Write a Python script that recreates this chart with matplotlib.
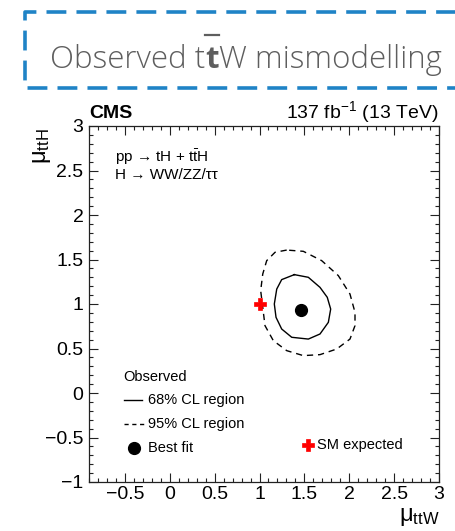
import matplotlib
matplotlib.use("Agg")
import matplotlib.pyplot as plt
from matplotlib.lines import Line2D
from matplotlib.ticker import MultipleLocator

plt.rcParams['font.family'] = ['Liberation Sans', 'DejaVu Sans']
plt.rcParams['mathtext.fontset'] = 'custom'
plt.rcParams['mathtext.rm'] = 'Liberation Sans'
plt.rcParams['mathtext.it'] = 'Liberation Sans:italic'
plt.rcParams['mathtext.bf'] = 'Liberation Sans:bold'
plt.rcParams['mathtext.default'] = 'regular'

# observed 68% CL contour in the (mu_ttW, mu_ttH) plane
cl68_x = [1.388, 1.247, 1.192, 1.165, 1.184, 1.247, 1.359, 1.544, 1.674,
          1.767, 1.793, 1.755, 1.674, 1.544]
cl68_y = [1.330, 1.274, 1.168, 1.000, 0.850, 0.719, 0.626, 0.606, 0.663,
          0.794, 0.943, 1.075, 1.187, 1.300]

# observed 95% CL contour
cl95_x = [1.303, 1.173, 1.080, 1.036, 1.013, 1.036, 1.061, 1.154, 1.303,
          1.488, 1.674, 1.860, 2.008, 2.064, 2.064, 2.008, 1.878, 1.693, 1.488]
cl95_y = [1.606, 1.581, 1.487, 1.337, 1.150, 0.963, 0.757, 0.588, 0.476,
          0.420, 0.431, 0.494, 0.606, 0.757, 0.906, 1.112, 1.319, 1.487, 1.592]

best_fit = (1.46, 0.93)
sm_expected = (1.0, 1.0)

W, H = 456, 531
fig = plt.figure(figsize=(W / 100, H / 100), dpi=100)


def fx(px):
    return px / W


def fy(py):
    return 1 - py / H


# dashed frame around the heading
box_blue = '#1f83c6'
fig.add_artist(Line2D([fx(470), fx(25), fx(25), fx(470)],
                      [fy(12), fy(12), fy(88), fy(88)],
                      color=box_blue, lw=2.6, dashes=(5.5, 2.8),
                      solid_capstyle='butt', dash_capstyle='butt'))

title_kw = dict(fontsize=22.5, color='#5e5e5e', family=['Open Sans', 'DejaVu Sans'],
                va='baseline', ha='left')
t1 = fig.text(fx(50), fy(68), 'Observed t', fontweight='light', **title_kw)
fig.canvas.draw()
r = fig.canvas.get_renderer()
b1 = t1.get_window_extent(r)
t2 = fig.text(b1.x1 / W, fy(68), 't', fontweight='bold', **title_kw)
fig.canvas.draw()
b2 = t2.get_window_extent(r)
fig.add_artist(Line2D([b2.x0 / W, b2.x1 / W], [fy(35), fy(35)],
                      color='#5e5e5e', lw=1.6))
t3 = fig.text(b2.x1 / W, fy(68), 'W mismodelling', fontweight='light', **title_kw)

# main plot
ax = fig.add_axes([fx(89), fy(482), (439 - 89) / W, (482 - 126) / H])
ax.set_xlim(-0.9, 3)
ax.set_ylim(-1, 3)

ax.plot(cl95_x + cl95_x[:1], cl95_y + cl95_y[:1], color='black', lw=1.0,
        dashes=(4.5, 3.5))
ax.plot(cl68_x + cl68_x[:1], cl68_y + cl68_y[:1], color='black', lw=1.0)
ax.plot(*best_fit, 'o', color='black', ms=8.5)
ax.plot(*sm_expected, 'P', color='red', ms=9, mec='red', mew=0.5)

ax.xaxis.set_major_locator(MultipleLocator(0.5))
ax.xaxis.set_minor_locator(MultipleLocator(0.1))
ax.yaxis.set_major_locator(MultipleLocator(0.5))
ax.yaxis.set_minor_locator(MultipleLocator(0.1))
ax.set_xticks([-0.5, 0, 0.5, 1, 1.5, 2, 2.5, 3])
ax.set_xticklabels(['\u22120.5', '0', '0.5', '1', '1.5', '2', '2.5', '3'])
ax.set_yticks([-1, -0.5, 0, 0.5, 1, 1.5, 2, 2.5, 3])
ax.set_yticklabels(['\u22121', '\u22120.5', '0', '0.5', '1', '1.5', '2', '2.5', '3'])
ax.tick_params(which='both', direction='in', top=True, right=True,
               colors='#222222', labelcolor='black', labelsize=14, width=0.8)
ax.tick_params(which='major', length=6.5)
ax.tick_params(which='minor', length=3.2)
ax.tick_params(axis='x', pad=3)
ax.tick_params(axis='y', pad=4)
for s in ax.spines.values():
    s.set_linewidth(0.9)
    s.set_color('#222222')

ax.text(0.0, 1.022, 'CMS', transform=ax.transAxes, fontsize=14,
        fontweight='bold', ha='left', va='baseline')
ax.text(1.0, 1.022, '137 fb$^{-1}$ (13 TeV)', transform=ax.transAxes,
        fontsize=14, ha='right', va='baseline')

ax.text(0.074, 0.913, 'pp \u2192 tH + t$\\bar{\\mathrm{t}}$H', transform=ax.transAxes,
        fontsize=11, ha='left', va='center')
ax.text(0.074, 0.862, 'H \u2192 WW/ZZ/\u03c4\u03c4', transform=ax.transAxes,
        fontsize=11, ha='left', va='center')

# legend entries
leg_fs = 10.5
ax.text(0.097, 0.295, 'Observed', transform=ax.transAxes, fontsize=leg_fs,
        va='center', ha='left')
ax.plot([0.100, 0.151], [0.230, 0.230], color='black', lw=1.0,
        transform=ax.transAxes)
ax.text(0.169, 0.230, '68% CL region', transform=ax.transAxes,
        fontsize=leg_fs, va='center', ha='left')
ax.plot([0.100, 0.160], [0.163, 0.163], color='black', lw=1.0,
        dashes=(3, 2.6), transform=ax.transAxes)
ax.text(0.169, 0.163, '95% CL region', transform=ax.transAxes,
        fontsize=leg_fs, va='center', ha='left')
ax.plot([0.129], [0.0955], 'o', color='black', ms=8.5, transform=ax.transAxes)
ax.text(0.169, 0.0955, 'Best fit', transform=ax.transAxes,
        fontsize=leg_fs, va='center', ha='left')
ax.plot([0.626], [0.104], 'P', color='red', ms=9, mec='red', mew=0.5,
        transform=ax.transAxes)
ax.text(0.651, 0.104, 'SM expected', transform=ax.transAxes,
        fontsize=leg_fs, va='center', ha='left')

# axis titles
fig.text(fx(440), fy(521), '$\\mu_{\\mathrm{ttW}}$', fontsize=17,
         ha='right', va='baseline')
fig.text(fx(42), fy(128), '$\\mu_{\\mathrm{ttH}}$', fontsize=17,
         rotation=90, ha='center', va='top')

fig.savefig('out.png', dpi=100)
